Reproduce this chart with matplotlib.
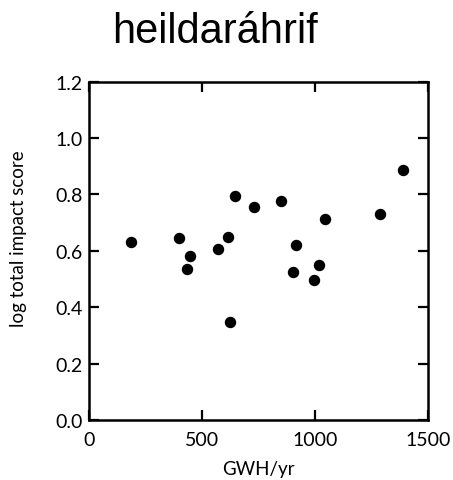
import matplotlib
matplotlib.use("Agg")
import matplotlib.pyplot as plt

# values
gwh = [184, 398, 445, 434, 569, 614, 646, 624, 730, 851,
       914, 900, 1043, 1016, 997, 1286, 1387]
impact = [0.631, 0.644, 0.582, 0.537, 0.608, 0.650, 0.796, 0.349, 0.756, 0.775,
          0.619, 0.525, 0.714, 0.550, 0.497, 0.730, 0.888]

x_ticks = [0, 500, 1000, 1500]
y_ticks = [0.0, 0.2, 0.4, 0.6, 0.8, 1.0, 1.2]

fig = plt.figure(figsize=(4.53, 4.81), dpi=100)
ax = fig.add_axes([0.197, 0.125, 0.748, 0.703])

ax.scatter(gwh, impact, s=52, color="black", zorder=3, clip_on=False)

ax.set_xlim(0, 1500)
ax.set_ylim(0, 1.2)
ax.set_xticks(x_ticks)
ax.set_yticks(y_ticks)
ax.set_yticklabels([f"{v:.1f}" for v in y_ticks])

for lab in ax.get_xticklabels() + ax.get_yticklabels():
    lab.set_fontfamily("Lato")
    lab.set_fontsize(14)

ax.tick_params(direction="in", length=7, width=1.6, top=True, right=True,
               color="black")
ax.tick_params(axis="x", pad=8)
ax.tick_params(axis="y", pad=5)
for sp in ax.spines.values():
    sp.set_linewidth(1.8)

ax.set_xlabel("GWH/yr", fontfamily="Lato", fontsize=13.5, labelpad=9)
ax.set_ylabel("log total impact score", fontfamily="Lato", fontsize=13.5)
# label sits a little above the middle of the axis in the original
ax.yaxis.set_label_coords(-0.185, 0.54)

fig.text(215 / 453, 1 - 43 / 481, "heildaráhrif", ha="center",
         va="baseline", fontfamily="Liberation Sans", fontsize=30)

fig.savefig("out.png", dpi=100)
